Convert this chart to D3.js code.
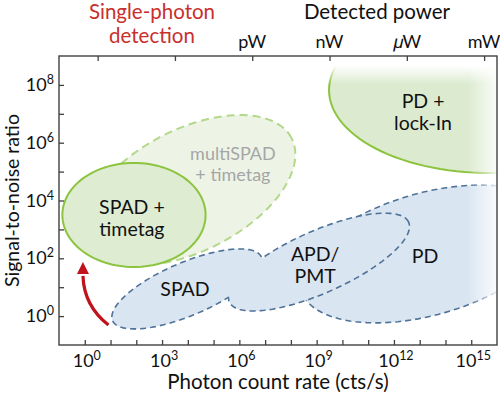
<!DOCTYPE html>
<html>
<head>
<meta charset="utf-8">
<script src="https://cdn.jsdelivr.net/npm/d3@7"></script>
<style>
  body { margin: 0; background: #fff; }
  text { font-family: Lato, "Open Sans", sans-serif; }
</style>
</head>
<body>
<div id="chart"></div>
<script>
// axis tick exponents (log10)
var xTickExps = d3.range(0, 16);
var xLabelExps = [0, 3, 6, 9, 12, 15];
var yTickExps = d3.range(0, 9);
var yLabelExps = [0, 2, 4, 6, 8];
var powerTickExps = [0.5, 3.5, 6.5, 9.5, 12.5, 15.5];
var powerTickLabels = ["", "", "pW", "nW", "\u{1D707}W", "mW"];

// detector regions: centre and two conjugate semi-axes, all in decades (log10 cts/s, log10 SNR)
var regionNames = ["multiSPAD", "SPAD + timetag", "PD + lock-In", "SPAD", "APD/PMT", "PD"];
var regionCenters = [[4.09, 4.36], [1.91, 3.50], [15.73, 7.82], [3.97, 0.94], [9.09, 1.87], [13.32, 2.15]];
var regionAxisU = [[3.94, 1.79], [2.78, 0], [6.25, 0], [2.89, 1.10], [3.48, 1.38], [4.93, 1.25]];
var regionAxisV = [[-1.07, 1.88], [0, 1.80], [0, 2.87], [-0.41, 0.84], [-0.49, 0.98], [-0.65, 2.03]];

// labels inside the regions (log10 position)
var labelLines = [["multiSPAD", "+ timetag"], ["SPAD +", "timetag"], ["PD +", "lock-In"], ["SPAD"], ["APD/", "PMT"], ["PD"]];
var labelPos = [[5.75, 5.26], [1.83, 3.39], [13.13, 7.06], [3.89, 0.94], [8.94, 1.77], [13.21, 2.08]];

// red arrow: tail, control, head base, tip (log10)
var arrowPts = [[0.92, -0.31], [-0.03, 0.35], [-0.07, 1.46]];
var arrowTip = [-0.07, 1.87];

var width = 500, height = 395;
var margin = {top: 56, right: 3, bottom: 50, left: 59};

var svg = d3.select("#chart").append("svg")
    .attr("width", width)
    .attr("height", height);

var x = d3.scaleLog().domain([1e-1, 1e16]).range([margin.left, width - margin.right]);
var y = d3.scaleLog().domain([1e-1, 1e9]).range([height - margin.bottom, margin.top]);

function px(e) { return x(Math.pow(10, e)); }
function py(e) { return y(Math.pow(10, e)); }

function regionPath(i) {
    var c = regionCenters[i], u = regionAxisU[i], v = regionAxisV[i];
    var pts = d3.range(0, 361, 3).map(function(t) {
        var a = t * Math.PI / 180;
        return [px(c[0] + u[0] * Math.cos(a) + v[0] * Math.sin(a)),
                py(c[1] + u[1] * Math.cos(a) + v[1] * Math.sin(a))];
    });
    return d3.line()(pts) + "Z";
}

var defs = svg.append("defs");
defs.append("clipPath").attr("id", "plotClip").append("rect")
    .attr("x", margin.left).attr("y", margin.top)
    .attr("width", width - margin.left - margin.right)
    .attr("height", height - margin.top - margin.bottom);

// masks: "outside region i"
function outsideMask(id, idxs) {
    var m = defs.append("mask").attr("id", id).attr("maskUnits", "userSpaceOnUse")
        .attr("x", 0).attr("y", 0).attr("width", width).attr("height", height);
    m.append("rect").attr("width", width).attr("height", height).attr("fill", "#fff");
    idxs.forEach(function(i) { m.append("path").attr("d", regionPath(i)).attr("fill", "#000"); });
}
outsideMask("outAPD", [4]);
outsideMask("outSPAD", [3]);

var gradR = defs.append("linearGradient").attr("id", "fadeRight").attr("x1", 0).attr("x2", 1).attr("y1", 0).attr("y2", 0);
gradR.append("stop").attr("offset", 0).attr("stop-color", "#fff").attr("stop-opacity", 0);
gradR.append("stop").attr("offset", 1).attr("stop-color", "#fff").attr("stop-opacity", 0.85);
var gradT = defs.append("linearGradient").attr("id", "fadeTop").attr("x1", 0).attr("x2", 0).attr("y1", 0).attr("y2", 1);
gradT.append("stop").attr("offset", 0.35).attr("stop-color", "#fff").attr("stop-opacity", 1);
gradT.append("stop").attr("offset", 1).attr("stop-color", "#fff").attr("stop-opacity", 0);

var plot = svg.append("g").attr("clip-path", "url(#plotClip)");

// blue regions
var blue = "#dae5f2", blueLine = "#4f7398";
[5, 3, 4].forEach(function(i) {
    plot.append("path").attr("d", regionPath(i)).attr("fill", blue);
});
plot.append("path").attr("d", regionPath(5)).attr("fill", "none")
    .attr("stroke", blueLine).attr("stroke-width", 1.6).attr("stroke-dasharray", "6,4")
    .attr("mask", "url(#outAPD)");
plot.append("path").attr("d", regionPath(3)).attr("fill", "none")
    .attr("stroke", blueLine).attr("stroke-width", 1.6).attr("stroke-dasharray", "6,4")
    .attr("mask", "url(#outAPD)");
plot.append("path").attr("d", regionPath(4)).attr("fill", "none")
    .attr("stroke", blueLine).attr("stroke-width", 1.6).attr("stroke-dasharray", "6,4")
    .attr("mask", "url(#outSPAD)");

// green regions
plot.append("path").attr("d", regionPath(2)).attr("fill", "#dcebd0")
    .attr("stroke", "#8cc43f").attr("stroke-width", 2);
plot.append("path").attr("d", regionPath(0)).attr("fill", "#edf4e6")
    .attr("stroke", "#b3d88a").attr("stroke-width", 2).attr("stroke-dasharray", "8,5");
plot.append("path").attr("d", regionPath(1)).attr("fill", "#deecd2")
    .attr("stroke", "#8cc43f").attr("stroke-width", 2);

// fade-outs at the right and top edge
plot.append("rect").attr("x", x(1e16) - 30).attr("y", margin.top)
    .attr("width", 30).attr("height", height - margin.top - margin.bottom)
    .attr("fill", "url(#fadeRight)");
plot.append("rect").attr("x", px(9)).attr("y", margin.top)
    .attr("width", x(1e16) - px(9)).attr("height", 28)
    .attr("fill", "url(#fadeTop)");

// region labels
labelLines.forEach(function(lines, i) {
    var t = svg.append("text")
        .attr("x", px(labelPos[i][0]))
        .attr("y", py(labelPos[i][1]))
        .attr("text-anchor", "middle")
        .attr("font-size", i === 0 ? 18 : 19.5)
        .attr("fill", i === 0 ? "#a6a6a6" : "#111");
    var lh = 21.5, off = -(lines.length - 1) * lh / 2;
    lines.forEach(function(s, j) {
        t.append("tspan").attr("x", px(labelPos[i][0]))
            .attr("y", py(labelPos[i][1]) + off + j * lh)
            .attr("dy", "0.35em").text(s);
    });
});

// red arrow
var ap = d3.path();
ap.moveTo(px(arrowPts[0][0]), py(arrowPts[0][1]));
ap.quadraticCurveTo(px(arrowPts[1][0]), py(arrowPts[1][1]), px(arrowPts[2][0]), py(arrowPts[2][1]) + 2);
svg.append("path").attr("d", ap.toString()).attr("fill", "none")
    .attr("stroke", "#c0131b").attr("stroke-width", 3.2);
var tipX = px(arrowTip[0]), tipY = py(arrowTip[1]), baseY = py(arrowPts[2][1]);
svg.append("path")
    .attr("d", "M" + tipX + "," + tipY + "L" + (tipX - 6) + "," + baseY + "L" + (tipX + 6) + "," + baseY + "Z")
    .attr("fill", "#c0131b");

// frame
var frameColor = "#404040";
svg.append("rect").attr("x", margin.left).attr("y", margin.top)
    .attr("width", width - margin.left - margin.right)
    .attr("height", height - margin.top - margin.bottom)
    .attr("fill", "none").attr("stroke", frameColor).attr("stroke-width", 1.4);

// ticks (inward)
var axB = svg.append("g").attr("transform", "translate(0," + (height - margin.bottom) + ")")
    .call(d3.axisBottom(x).tickValues(xTickExps.map(function(e) { return Math.pow(10, e); }))
        .tickSizeInner(-5).tickSizeOuter(0).tickFormat(""));
var axL = svg.append("g").attr("transform", "translate(" + margin.left + ",0)")
    .call(d3.axisLeft(y).tickValues(yTickExps.map(function(e) { return Math.pow(10, e); }))
        .tickSizeInner(-5).tickSizeOuter(0).tickFormat(""));
var axT = svg.append("g").attr("transform", "translate(0," + margin.top + ")")
    .call(d3.axisTop(x).tickValues(powerTickExps.map(function(e) { return Math.pow(10, e); }))
        .tickSizeInner(-5).tickSizeOuter(0).tickFormat(""));
[axB, axL, axT].forEach(function(a) {
    a.select(".domain").remove();
    a.selectAll(".tick line").attr("stroke", frameColor).attr("stroke-width", 1.3);
});

// tick labels with superscripts
xLabelExps.forEach(function(e) {
    var t = svg.append("text").attr("x", px(e) + 2).attr("y", height - margin.bottom + 22)
        .attr("text-anchor", "middle").attr("font-size", 18).attr("fill", "#111");
    t.append("tspan").text("10");
    t.append("tspan").attr("font-size", 12.5).attr("dy", -7).text(e);
});
yLabelExps.forEach(function(e) {
    var t = svg.append("text").attr("x", margin.left - 5).attr("y", py(e) + 6)
        .attr("text-anchor", "end").attr("font-size", 18).attr("fill", "#111");
    t.append("tspan").text("10");
    t.append("tspan").attr("font-size", 12.5).attr("dy", -7).text(e);
});
powerTickExps.forEach(function(e, i) {
    if (!powerTickLabels[i]) return;
    svg.append("text").attr("x", px(e)).attr("y", margin.top - 8)
        .attr("text-anchor", "middle").attr("font-size", 18).attr("fill", "#111")
        .text(powerTickLabels[i]);
});

// axis titles
svg.append("text").attr("x", (margin.left + width - margin.right) / 2).attr("y", height - 6)
    .attr("text-anchor", "middle").attr("font-size", 20.5).attr("fill", "#111")
    .text("Photon count rate (cts/s)");
svg.append("text").attr("transform", "translate(19," + ((margin.top + height - margin.bottom) / 2) + ") rotate(-90)")
    .attr("text-anchor", "middle").attr("font-size", 19.5).attr("fill", "#111")
    .text("Signal-to-noise ratio");
svg.append("text").attr("x", 377).attr("y", 19)
    .attr("text-anchor", "middle").attr("font-size", 20.5).attr("fill", "#111")
    .text("Detected power");
var sp = svg.append("text").attr("text-anchor", "middle").attr("font-size", 20.5).attr("fill", "#c8302c");
sp.append("tspan").attr("x", 152).attr("y", 19).text("Single-photon");
sp.append("tspan").attr("x", 152).attr("y", 43).text("detection");
</script>
</body>
</html>
